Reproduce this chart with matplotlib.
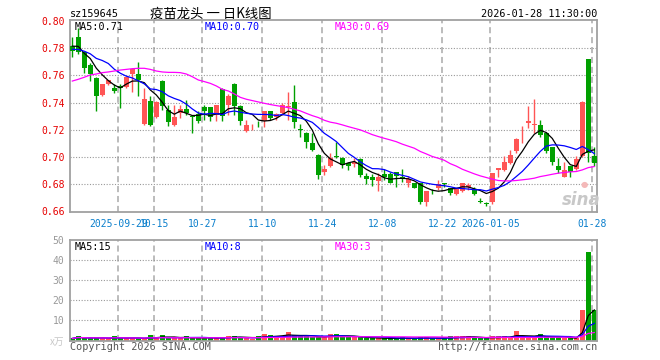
import matplotlib
matplotlib.use('Agg')
import matplotlib.pyplot as plt
import numpy as np
import pandas as pd

# ---------------- data ----------------
opens = [0.7817, 0.7886, 0.7775, 0.7677, 0.7579, 0.7456, 0.7537, 0.7510, 0.7520, 0.7518,
         0.7611, 0.7609, 0.7240, 0.7412, 0.7297, 0.7560, 0.7346, 0.7236, 0.7326, 0.7351,
         0.7297, 0.7314, 0.7366, 0.7366, 0.7310, 0.7498, 0.7383, 0.7537, 0.7375, 0.7194,
         0.7240, 0.7242, 0.7265, 0.7339, 0.7297, 0.7326, 0.7368, 0.7407, 0.7199, 0.7174,
         0.7106, 0.7015, 0.6892, 0.6936, 0.7003, 0.6995, 0.6953, 0.6948, 0.6983, 0.6860,
         0.6855, 0.6823, 0.6875, 0.6875, 0.6885, 0.6850, 0.6811, 0.6806, 0.6806, 0.6664,
         0.6747, 0.6774, 0.6800, 0.6769, 0.6728, 0.6752, 0.6781, 0.6764, 0.6673, 0.6656,
         0.6664, 0.6904, 0.6904, 0.6958, 0.7047, 0.7181, 0.7248, 0.7236, 0.7236, 0.7179,
         0.7071, 0.6934, 0.6855, 0.6934, 0.6909, 0.7003, 0.7721, 0.7010]
highs = [0.7886, 0.7950, 0.7775, 0.7690, 0.7590, 0.7540, 0.7570, 0.7540, 0.7535, 0.7590,
         0.7655, 0.7702, 0.7506, 0.7450, 0.7410, 0.7570, 0.7383, 0.7383, 0.7383, 0.7420,
         0.7305, 0.7340, 0.7380, 0.7370, 0.7385, 0.7506, 0.7464, 0.7545, 0.7380, 0.7272,
         0.7245, 0.7267, 0.7340, 0.7340, 0.7320, 0.7395, 0.7481, 0.7530, 0.7243, 0.7180,
         0.7174, 0.7020, 0.6941, 0.7027, 0.7113, 0.7000, 0.6965, 0.6990, 0.6990, 0.6880,
         0.6875, 0.6880, 0.6909, 0.6890, 0.6892, 0.6909, 0.6860, 0.6810, 0.6810, 0.6750,
         0.6760, 0.6831, 0.6806, 0.6770, 0.6770, 0.6810, 0.6810, 0.6780, 0.6696, 0.6664,
         0.6882, 0.6920, 0.7003, 0.7052, 0.7138, 0.7228, 0.7375, 0.7427, 0.7272, 0.7180,
         0.7075, 0.6995, 0.6966, 0.6936, 0.7003, 0.7410, 0.7725, 0.7076]
lows = [0.7734, 0.7760, 0.7616, 0.7560, 0.7341, 0.7450, 0.7530, 0.7470, 0.7358, 0.7510,
        0.7481, 0.7452, 0.7235, 0.7228, 0.7290, 0.7346, 0.7228, 0.7230, 0.7285, 0.7310,
        0.7174, 0.7250, 0.7272, 0.7267, 0.7267, 0.7267, 0.7310, 0.7310, 0.7236, 0.7187,
        0.7199, 0.7218, 0.7221, 0.7272, 0.7272, 0.7310, 0.7272, 0.7211, 0.7150, 0.7064,
        0.7040, 0.6836, 0.6868, 0.6927, 0.6990, 0.6917, 0.6900, 0.6927, 0.6850, 0.6801,
        0.6789, 0.6745, 0.6831, 0.6806, 0.6777, 0.6818, 0.6777, 0.6770, 0.6654, 0.6639,
        0.6730, 0.6757, 0.6780, 0.6720, 0.6720, 0.6740, 0.6757, 0.6720, 0.6659, 0.6640,
        0.6654, 0.6850, 0.6893, 0.6948, 0.7027, 0.7101, 0.7211, 0.7174, 0.7145, 0.7027,
        0.6941, 0.6880, 0.6853, 0.6855, 0.6900, 0.7000, 0.6966, 0.6935]
closes = [0.7783, 0.7775, 0.7653, 0.7609, 0.7449, 0.7537, 0.7564, 0.7488, 0.7505, 0.7587,
          0.7650, 0.7567, 0.7427, 0.7236, 0.7402, 0.7378, 0.7260, 0.7297, 0.7351, 0.7321,
          0.7295, 0.7267, 0.7341, 0.7297, 0.7383, 0.7304, 0.7449, 0.7375, 0.7265, 0.7236,
          0.7242, 0.7240, 0.7339, 0.7284, 0.7314, 0.7380, 0.7370, 0.7260, 0.7197, 0.7108,
          0.7052, 0.6863, 0.6912, 0.6990, 0.7000, 0.6941, 0.6936, 0.6966, 0.6863, 0.6836,
          0.6826, 0.6855, 0.6850, 0.6811, 0.6860, 0.6836, 0.6836, 0.6774, 0.6671, 0.6745,
          0.6745, 0.6799, 0.6798, 0.6733, 0.6762, 0.6806, 0.6794, 0.6728, 0.6670, 0.6652,
          0.6880, 0.6917, 0.6961, 0.7015, 0.7130, 0.7183, 0.7267, 0.7238, 0.7162, 0.7047,
          0.6966, 0.6904, 0.6904, 0.6892, 0.6983, 0.7407, 0.7025, 0.6955]
# closes of the sessions just before the window (estimated, used only for MA5/MA10)
prior_closes = [0.779, 0.778, 0.780, 0.7786, 0.7692, 0.7785, 0.791, 0.780, 0.7804]
# MA30 of price
ma30_price = [0.7559, 0.7572, 0.7587, 0.7604, 0.7611, 0.7621, 0.7626, 0.7633, 0.7640, 0.7645,
              0.7650, 0.7653, 0.7653, 0.7645, 0.7633, 0.7626, 0.7623, 0.7623, 0.7621, 0.7611,
              0.7591, 0.7567, 0.7555, 0.7542, 0.7523, 0.7498, 0.7486, 0.7464, 0.7439, 0.7425,
              0.7415, 0.7405, 0.7395, 0.7386, 0.7378, 0.7371, 0.7363, 0.7351, 0.7339, 0.7321,
              0.7304, 0.7290, 0.7270, 0.7256, 0.7248, 0.7236, 0.7223, 0.7211, 0.7199, 0.7182,
              0.7164, 0.7150, 0.7137, 0.7125, 0.7112, 0.7094, 0.7079, 0.7064, 0.7040, 0.7022,
              0.7003, 0.6990, 0.6975, 0.6950, 0.6932, 0.6909, 0.6892, 0.6875, 0.6860, 0.6848,
              0.6836, 0.6826, 0.6823, 0.6823, 0.6826, 0.6831, 0.6836, 0.6843, 0.6855, 0.6863,
              0.6872, 0.6880, 0.6885, 0.6890, 0.6892, 0.6904, 0.6921, 0.6929]
volumes = [1.0, 2.0, 1.2, 1.0, 1.5, 1.0, 1.0, 2.0, 1.2, 1.0,
           1.0, 1.0, 1.0, 2.5, 1.5, 2.5, 1.0, 1.2, 1.2, 2.0,
           1.2, 1.2, 1.0, 1.2, 1.5, 1.5, 2.0, 2.0, 1.5, 1.0,
           0.8, 2.0, 3.2, 2.5, 2.0, 2.0, 4.0, 2.5, 2.0, 2.0,
           1.5, 1.5, 2.0, 3.0, 3.0, 2.0, 1.5, 1.5, 1.5, 1.2,
           1.2, 1.0, 1.0, 1.0, 1.2, 1.5, 1.0, 1.0, 1.5, 1.5,
           1.0, 1.0, 1.2, 2.0, 2.0, 2.0, 2.0, 1.0, 1.0, 1.0,
           2.0, 2.0, 2.0, 1.5, 4.5, 2.0, 1.5, 1.5, 3.0, 2.0,
           1.5, 1.5, 1.0, 1.0, 1.0, 15.0, 44.0, 15.0]
tick_idx = [8, 14, 22, 32, 42, 52, 62, 70, 87]
tick_labels = ['2025-09-29', '10-15', '10-27', '11-10', '11-24', '12-08', '12-22',
               '2026-01-05', '01-28']
price_ticks = [0.66, 0.68, 0.70, 0.72, 0.74, 0.76, 0.78, 0.80]
vol_ticks = [10, 20, 30, 40, 50]

# ---------------- styling ----------------
W, H = 660, 360
RED = '#ff5555'
GREEN = '#00a000'
FRAME = '#a0a0a0'
MONO = 'DejaVu Sans Mono'
plt.rcParams['font.family'] = ['DejaVu Sans Mono', 'Noto Sans CJK SC']

fig = plt.figure(figsize=(W / 100, H / 100), dpi=100)
fig.patch.set_facecolor('white')


def axes_px(x0, y0, x1, y1):
    return fig.add_axes([x0 / W, 1 - y1 / H, (x1 - x0) / W, (y1 - y0) / H])


def ftext(x, y, s, **kw):
    fig.text(x / W, 1 - y / H, s, **kw)


ax = axes_px(70, 20, 597, 211.7)
axv = axes_px(70, 240, 597, 340.5)

n = len(closes)
idx = np.arange(n)
o = np.array(opens); c = np.array(closes)
hi = np.array(highs); lo = np.array(lows)
colors = [RED if cc >= oo else GREEN for oo, cc in zip(o, c)]

# MAs
allc = pd.Series(list(prior_closes) + list(closes))
ma5 = allc.rolling(5).mean().values[len(prior_closes):]
ma10 = allc.rolling(10).mean().values[len(prior_closes):]
vs = pd.Series(volumes)
vma5 = vs.rolling(5, min_periods=1).mean().values
vma10 = vs.rolling(10, min_periods=1).mean().values
vma30 = vs.rolling(30, min_periods=1).mean().values

for a in (ax, axv):
    for t in tick_idx:
        a.axvline(t - 0.33, color='#aaaaaa', lw=1.1, ls=(0, (4, 2.5)), zorder=0)
    for s in a.spines.values():
        s.set_color(FRAME)
        s.set_linewidth(1.3)
    a.tick_params(length=0)
    a.set_xlim(-0.383, 87.45)

for p in price_ticks[1:-1]:
    ax.axhline(p, color='#999999', lw=0.8, ls=(0, (1, 1.5)), zorder=0)
for v in vol_ticks[:-1]:
    axv.axhline(v, color='#999999', lw=0.8, ls=(0, (1, 1.5)), zorder=0)

# candles
body_bottom = np.minimum(o, c)
body_h = np.maximum(np.abs(c - o), 0.0006)
ax.vlines(idx, lo, hi, colors=colors, lw=1.0, zorder=2)
ax.bar(idx, body_h, bottom=body_bottom, width=0.8, color=colors, zorder=3, linewidth=0)
ax.plot(idx, ma5, color='black', lw=0.9, zorder=4)
ax.plot(idx, ma10, color='#0000ff', lw=0.9, zorder=4)
ax.plot(idx, ma30_price, color='#ff00ff', lw=0.9, zorder=4)
ax.set_ylim(0.6596, 0.8009)
ax.set_yticks(price_ticks)
ax.set_yticklabels(['%.2f' % p for p in price_ticks], color='#e60000', fontsize=7,
                   family=MONO)
ax.tick_params(axis='y', pad=4)
ax.set_xticks([t - 0.33 for t in tick_idx])
ax.set_xticklabels(tick_labels, color='#0a7fcc', fontsize=7, family=MONO)
ax.tick_params(axis='x', pad=5)

# volume
axv.bar(idx, volumes, width=0.8, color=colors, linewidth=0, zorder=2)
axv.plot(idx, vma5, color='black', lw=0.9, zorder=3)
axv.plot(idx, vma10, color='#0000ff', lw=0.9, zorder=3)
axv.plot(idx, vma30, color='#ff00ff', lw=0.9, zorder=3)
axv.set_ylim(0, 50)
axv.set_yticks(vol_ticks)
axv.set_yticklabels([str(v) for v in vol_ticks], color='#999999', fontsize=7, family=MONO)
axv.tick_params(axis='y', pad=4)
axv.set_xticks([])

# texts
ftext(70, 17, 'sz159645', fontsize=7.3, family=MONO, color='black')
ftext(150, 17.5, '疫苗龙头 一 日K线图', fontsize=9.6, family=['Noto Sans CJK SC', 'DejaVu Sans'],
      color='black')
ftext(597, 17, '2026-01-28 11:30:00', fontsize=7.3, family=MONO, color='black', ha='right')
ftext(75, 29.5, 'MA5:%.2f' % ma5[-1], fontsize=7.3, family=MONO, color='black')
ftext(205, 29.5, 'MA10:%.2f' % ma10[-1], fontsize=7.3, family=MONO, color='#0000ff')
ftext(335, 29.5, 'MA30:%.2f' % ma30_price[-1], fontsize=7.3, family=MONO, color='#ff00ff')
ftext(75, 250, 'MA5:%d' % round(vma5[-1]), fontsize=7.3, family=MONO, color='black')
ftext(205, 250, 'MA10:%d' % int(vma10[-1]), fontsize=7.3, family=MONO, color='#0000ff')
ftext(335, 250, 'MA30:%d' % int(vma30[-1]), fontsize=7.3, family=MONO, color='#ff00ff')
ftext(64, 344.5, 'x万', fontsize=7, family=['Noto Sans CJK SC', 'DejaVu Sans'],
      color='#c8c8c8', ha='right')
ftext(70, 350, 'Copyright 2026 SINA.COM', fontsize=7.3, family=MONO, color='#555555')
ftext(597, 350, 'http://finance.sina.com.cn', fontsize=7.3, family=MONO, color='#555555',
      ha='right')
ftext(581, 205, 'sina', fontsize=12, family='DejaVu Sans', style='italic', weight='bold',
      color='#c8c8c8', ha='center')
ftext(584, 187, '●', fontsize=6, family='DejaVu Sans', color='#f4b8b8', ha='center')

fig.savefig('out.png', dpi=100)
